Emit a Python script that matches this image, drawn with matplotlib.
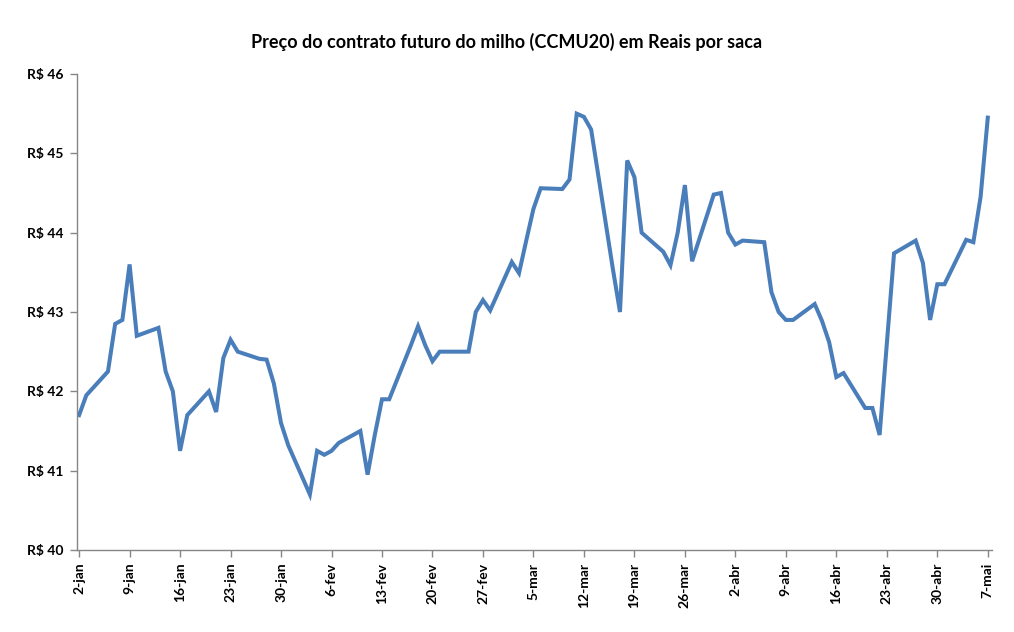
import numpy as np
import pandas as pd
import matplotlib
matplotlib.use("Agg")
import matplotlib.pyplot as plt

plt.rcParams['font.family'] = ['Lato', 'DejaVu Sans']

# trading days (B3) and settlement prices, R$ per 60kg bag
dates = [
    "2020-01-02", "2020-01-03", "2020-01-06", "2020-01-07", "2020-01-08", "2020-01-09", "2020-01-10",
    "2020-01-13", "2020-01-14", "2020-01-15", "2020-01-16", "2020-01-17",
    "2020-01-20", "2020-01-21", "2020-01-22", "2020-01-23", "2020-01-24",
    "2020-01-27", "2020-01-28", "2020-01-29", "2020-01-30", "2020-01-31",
    "2020-02-03", "2020-02-04", "2020-02-05", "2020-02-06", "2020-02-07",
    "2020-02-10", "2020-02-11", "2020-02-12", "2020-02-13", "2020-02-14",
    "2020-02-17", "2020-02-18", "2020-02-19", "2020-02-20", "2020-02-21",
    "2020-02-24", "2020-02-25", "2020-02-26", "2020-02-27", "2020-02-28",
    "2020-03-02", "2020-03-03", "2020-03-04", "2020-03-05", "2020-03-06",
    "2020-03-09", "2020-03-10", "2020-03-11", "2020-03-12", "2020-03-13",
    "2020-03-16", "2020-03-17", "2020-03-18", "2020-03-19", "2020-03-20",
    "2020-03-23", "2020-03-24", "2020-03-25", "2020-03-26", "2020-03-27",
    "2020-03-30", "2020-03-31", "2020-04-01", "2020-04-02", "2020-04-03",
    "2020-04-06", "2020-04-07", "2020-04-08", "2020-04-09", "2020-04-10",
    "2020-04-13", "2020-04-14", "2020-04-15", "2020-04-16", "2020-04-17",
    "2020-04-20", "2020-04-21", "2020-04-22", "2020-04-23", "2020-04-24",
    "2020-04-27", "2020-04-28", "2020-04-29", "2020-04-30", "2020-05-01",
    "2020-05-04", "2020-05-05", "2020-05-06", "2020-05-07",
]
prices = [
    41.70, 41.95, 42.25, 42.85, 42.90, 43.60, 42.70,
    42.80, 42.25, 42.00, 41.25, 41.70,
    42.00, 41.74, 42.42, 42.65, 42.50,
    42.41, 42.40, 42.10, 41.60, 41.32,
    40.70, 41.25, 41.20, 41.25, 41.35,
    41.50, 40.95, 41.45, 41.90, 41.90,
    42.58, 42.82, 42.58, 42.38, 42.50,
    42.50, 42.50, 43.00, 43.15, 43.02,
    43.63, 43.49, 43.90, 44.30, 44.56,
    44.55, 44.67, 45.50, 45.46, 45.30,
    43.55, 43.00, 44.91, 44.70, 44.00,
    43.76, 43.59, 44.00, 44.60, 43.64,
    44.48, 44.50, 44.00, 43.85, 43.90,
    43.88, 43.25, 43.00, 42.90, 42.90,
    43.10, 42.89, 42.62, 42.18, 42.23,
    41.79, 41.79, 41.45, 42.60, 43.74,
    43.90, 43.62, 42.90, 43.35, 43.35,
    43.91, 43.88, 44.45, 45.45,
]
tick_labels = ["2-jan", "9-jan", "16-jan", "23-jan", "30-jan", "6-fev", "13-fev",
               "20-fev", "27-fev", "5-mar", "12-mar", "19-mar", "26-mar", "2-abr",
               "9-abr", "16-abr", "23-abr", "30-abr", "7-mai"]
y_ticks = [40, 41, 42, 43, 44, 45, 46]

x = pd.to_datetime(dates)
tick_pos = pd.date_range(x[0], periods=len(tick_labels), freq="7D")

fig = plt.figure(figsize=(10.14, 6.32), dpi=100)
ax = fig.add_axes([77 / 1014, 1 - 550 / 632, (992 - 77) / 1014, (550 - 74) / 632])

ax.plot(x, prices, color="#4a7ebb", lw=2.9, solid_joinstyle="miter")

ax.set_xlim(x[0] - pd.Timedelta(hours=7), x[-1] + pd.Timedelta(hours=14))
ax.set_ylim(40, 46)
ax.set_xticks(tick_pos)
ax.set_xticklabels(tick_labels, rotation=90, fontsize=10, fontweight="bold")
ax.set_yticks(y_ticks)
ax.set_yticklabels(["R$ %d" % v for v in y_ticks], fontsize=10, fontweight="bold")

for s in ["top", "right"]:
    ax.spines[s].set_visible(False)
for s in ["left", "bottom"]:
    ax.spines[s].set_color("#868686")
    ax.spines[s].set_linewidth(1.0)
ax.tick_params(axis="both", direction="out", length=5, color="#868686", width=1.0)
ax.tick_params(axis="y", pad=5)
ax.tick_params(axis="x", pad=4)

fig.text(0.5, 1 - 42 / 632, "Preço do contrato futuro do milho (CCMU20) em Reais por saca",
         ha="center", va="center", fontsize=13, fontweight="bold")

fig.savefig("out.png", dpi=100)
